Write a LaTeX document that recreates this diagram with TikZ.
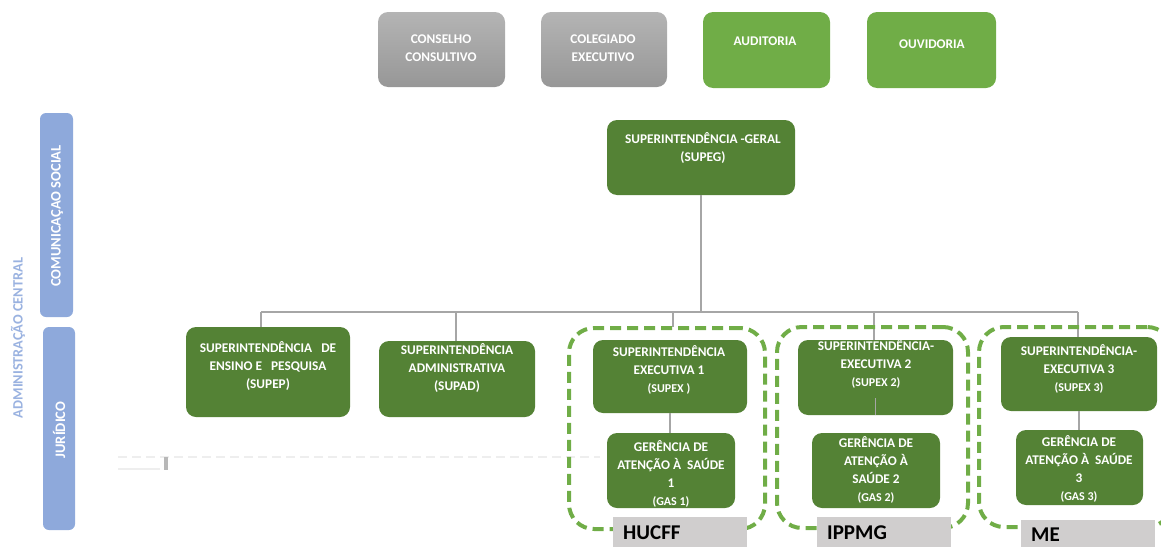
\documentclass[tikz,border=0pt]{standalone}
\usepackage{fontspec}
\setmainfont{Carlito}[BoldFont={Carlito Bold}]
\definecolor{dgreen}{HTML}{548235}
\definecolor{lgreen}{HTML}{70AD47}
\definecolor{gtop}{HTML}{B4B4B4}
\definecolor{gbot}{HTML}{979797}
\definecolor{lineg}{HTML}{A6A6A6}
\definecolor{barb}{HTML}{8EA9DB}
\definecolor{admtxt}{HTML}{9AB2E0}
\definecolor{tagg}{HTML}{D0CECE}
\definecolor{faint}{HTML}{EEEEEE}
\tikzset{
  gbox/.style={fill=dgreen, rounded corners=10pt, inner sep=0pt},
  lbox/.style={fill=lgreen, rounded corners=10pt, inner sep=0pt},
  graybox/.style={top color=gtop, bottom color=gbot, rounded corners=10pt, inner sep=0pt},
  txt/.style={text=white, align=center, inner sep=0pt, font=\fontsize{13.3}{18}\selectfont\bfseries},
  conn/.style={draw=lineg, line width=1.5pt},
  grp/.style={draw=lgreen, line width=4pt, dash pattern=on 11pt off 6pt, rounded corners=25pt, inner sep=0pt},
  tagbox/.style={fill=tagg, anchor=north west, inner xsep=10pt, inner ysep=0pt, text width=114pt, align=left, minimum height=31pt, text=black, font=\fontsize{21}{24}\selectfont\bfseries},
  bar/.style={fill=barb, rounded corners=6pt, inner sep=0pt},
  vtxt/.style={rotate=90, inner sep=0pt, font=\fontsize{14.5}{17}\selectfont\bfseries}
}
\newcommand\sm[1]{{\fontsize{12}{14}\selectfont #1}}
\begin{document}
\begin{tikzpicture}[x=1pt,y=-1pt]
\useasboundingbox (0,0) rectangle (1161,546);
% faint line at left
\draw[faint, line width=1.2pt, dash pattern=on 9pt off 5pt] (118,457) -- (600,457);
\draw[faint, line width=1.2pt] (118,469) -- (160,469);
\fill[lineg!80] (164,457) rectangle (168,470);
% side bars
\node[bar, minimum width=33pt, minimum height=204pt] (com) at (56.5,215) {};
\node[vtxt, text=white] (comT) at (57,216) {COMUNICAÇAO SOCIAL};
\node[bar, minimum width=32pt, minimum height=203pt] (jur) at (59,428.5) {};
\node[vtxt, text=white] (jurT) at (59,430) {JURÍDICO};
\node[vtxt, text=admtxt, font=\fontsize{14.3}{17}\selectfont\bfseries] (adm) at (18,338) {ADMINISTRAÇÃO CENTRAL};
% top boxes
\node[graybox, minimum width=127pt, minimum height=75pt] (cons) at (441.5,49.5) {};
\node[txt] (consT) at (441,48.5) {CONSELHO\\CONSULTIVO};
\node[graybox, minimum width=126pt, minimum height=75pt] (coleg) at (604,49.5) {};
\node[txt] (colegT) at (603,48.5) {COLEGIADO\\EXECUTIVO};
\node[lbox, minimum width=127pt, minimum height=76pt] (aud) at (766.5,50) {};
\node[txt] (audT) at (765,41) {AUDITORIA};
\node[lbox, minimum width=129pt, minimum height=76pt] (ouv) at (931.5,50) {};
\node[txt] (ouvT) at (932,44) {OUVIDORIA};
% connector coordinates
\coordinate (b1) at (261,312);
\coordinate (b2) at (456,312);
\coordinate (b3) at (673,312);
\coordinate (b4) at (874,312);
\coordinate (b5) at (1078,312);
% main boxes
\node[gbox, minimum width=188pt, minimum height=75pt] (supeg) at (701,157.5) {};
\node[gbox, minimum width=164pt, minimum height=90pt] (supep) at (268,372) {};
\node[gbox, minimum width=156pt, minimum height=76pt] (supad) at (457,379) {};
\coordinate (grp1) at (667,428.5);
\coordinate (grp2) at (872.5,427.5);
\coordinate (grp3) at (1075.5,427);
% connectors
\draw[conn] (supeg.south) -- (supeg.south |- b1);
\draw[conn] (b1) -- (b5);
\draw[conn] (b1) -- (b1 |- supep.north);
\draw[conn] (b2) -- (b2 |- supad.north);
\draw[conn] (b3) -- (673,327);
\draw[conn] (b4) -- (874,342);
\draw[conn] (b5) -- (1078,339);
% dashed groups
\node[grp, minimum width=196pt, minimum height=201pt] (g1box) at (grp1) {};
\node[grp, minimum width=191pt, minimum height=201pt] (g2box) at (grp2) {};
\node[grp, minimum width=193pt, minimum height=200pt] (g3box) at (grp3) {};
% inner boxes
\node[gbox, minimum width=154pt, minimum height=73pt] (s1) at (670,376.5) {};
\node[gbox, minimum width=128pt, minimum height=75pt] (g1) at (671,470.5) {};
\node[gbox, minimum width=155pt, minimum height=75pt] (s2) at (875.5,377.5) {};
\node[gbox, minimum width=128pt, minimum height=75pt] (g2) at (876,470.5) {};
\node[gbox, minimum width=156pt, minimum height=74pt] (s3) at (1079,374) {};
\node[gbox, minimum width=127pt, minimum height=75pt] (g3) at (1079.5,467.5) {};
\draw[conn] (s1.south) -- (s1.south |- g1.north);
\draw[conn] (s2.south) -- ++(0,-17);
\draw[conn] (s3.south) -- (s3.south |- g3.north);
% texts
\node[txt] (supegT) at (703,148) {SUPERINTENDÊNCIA -GERAL\\(SUPEG)};
\node[txt] (supepT) at (268,366) {SUPERINTENDÊNCIA~~~DE\\ENSINO E~~~PESQUISA\\(SUPEP)};
\node[txt] (supadT) at (457,368.5) {SUPERINTENDÊNCIA\\ADMINISTRATIVA\\(SUPAD)};
\node[txt] (s1T) at (669,369.5) {SUPERINTENDÊNCIA\\EXECUTIVA 1\\\sm{(SUPEX )}};
\node[txt] (g1T) at (671,473.5) {GERÊNCIA DE\\ATENÇÃO À~~SAÚDE\\1\\\sm{(GAS 1)}};
\node[txt] (s2T) at (876,363.5) {SUPERINTENDÊNCIA-\\EXECUTIVA 2\\\sm{(SUPEX 2)}};
\node[txt] (g2T) at (876,469.5) {GERÊNCIA DE\\ATENÇÃO À\\SAÚDE 2\\\sm{(GAS 2)}};
\node[txt] (s3T) at (1079,369) {SUPERINTENDÊNCIA-\\EXECUTIVA 3\\\sm{(SUPEX 3)}};
\node[txt] (g3T) at (1079,469) {GERÊNCIA DE\\ATENÇÃO À~~SAÚDE\\3\\\sm{(GAS 3)}};
% tags
\node[tagbox] (hucff) at (613,517) {HUCFF};
\node[tagbox] (ippmg) at (817,517) {IPPMG};
\node[tagbox, minimum height=28pt] (me) at (1021,520) {ME};
\end{tikzpicture}
\end{document}
